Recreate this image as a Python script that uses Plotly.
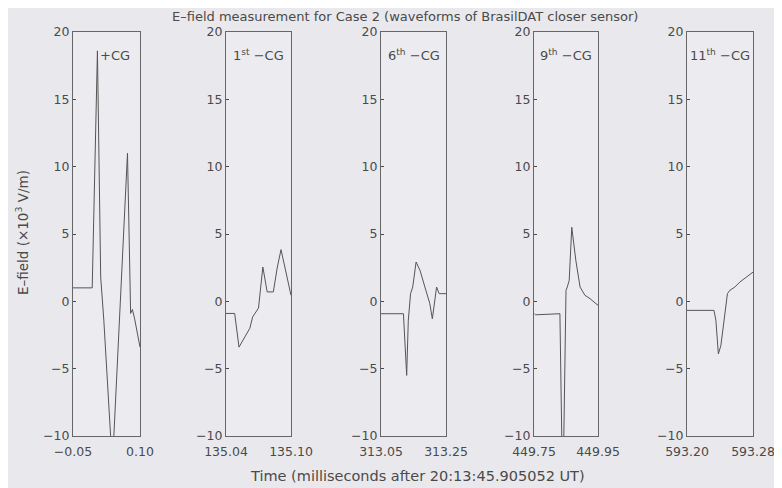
import plotly.graph_objects as go

# ---- data ----
t1 = [-0.05, -0.007, 0.0047, 0.012, 0.019, 0.030, 0.034, 0.036, 0.040, 0.065, 0.072, 0.079, 0.083, 0.088, 0.10]
e1 = [1.0, 1.0, 18.6, 1.8, -1.4, -8.0, -11.0, -11.0, -11.0, 6.5, 11.0, -0.9, -0.6, -1.3, -3.4]

t2 = [135.04, 135.048, 135.052, 135.0575, 135.062, 135.0646, 135.067, 135.070, 135.074,
      135.078, 135.0837, 135.0874, 135.0908, 135.096, 135.10]
e2 = [-0.9, -0.9, -3.4, -2.65, -2.0, -1.16, -0.9, -0.5, 2.55, 0.7, 0.7, 2.55, 3.84, 2.0, 0.45]

t3 = [313.05, 313.119, 313.129, 313.134, 313.141, 313.1475, 313.158, 313.17, 313.188,
      313.2, 313.208, 313.214, 313.221, 313.229, 313.25]
e3 = [-0.92, -0.92, -5.5, -1.4, 0.57, 1.06, 2.92, 2.3, 0.82, -0.15, -1.3, -0.05, 1.06, 0.57, 0.57]

t4 = [449.751, 449.755, 449.831, 449.838, 449.842, 449.85, 449.854, 449.86, 449.868,
      449.881, 449.894, 449.909, 449.925, 449.944, 449.95]
e4 = [-0.92, -1.0, -0.92, -12.0, -12.0, 0.82, 1.06, 1.55, 5.5, 3.0, 1.06, 0.45, 0.2, -0.17, -0.3]

t5 = [593.2, 593.2327, 593.235, 593.238, 593.241, 593.246, 593.249, 593.252, 593.258,
      593.264, 593.272, 593.28]
e5 = [-0.67, -0.67, -1.4, -3.9, -3.3, -1.04, 0.57, 0.82, 1.06, 1.43, 1.8, 2.17]

times = [t1, t2, t3, t4, t5]
fields = [e1, e2, e3, e4, e5]
x_ranges = [[-0.05, 0.10], [135.04, 135.10], [313.05, 313.25], [449.75, 449.95], [593.20, 593.28]]
x_ticktext = [["\u22120.05", "0.10"], ["135.04", "135.10"], ["313.05", "313.25"],
              ["449.75", "449.95"], ["593.20", "593.28"]]
labels = ["+CG", "1<sup>st</sup> \u2212CG", "6<sup>th</sup> \u2212CG",
          "9<sup>th</sup> \u2212CG", "11<sup>th</sup> \u2212CG"]
y_ticks = [-10, -5, 0, 5, 10, 15, 20]
y_ticktext = ["\u221210", "\u22125", "0", "5", "10", "15", "20"]

# ---- layout (page body adds an 8px offset, so the figure is 16px smaller) ----
W, H = 774, 480
px_left = [65, 218, 373, 526, 679]
px_right = [132, 283, 438, 590, 745]
y_top, y_bot = 24, 428
label_pos = [0.62, 0.5, 0.5, 0.5, 0.5]

fg = "#4a4a4a"
font_family = "DejaVu Sans, Arial, sans-serif"

fig = go.Figure()
layout = dict(
    width=W, height=H,
    margin=dict(l=0, r=0, t=0, b=0),
    paper_bgcolor="#e9e9ed",
    plot_bgcolor="#ececf0",
    showlegend=False,
    font=dict(family=font_family, size=13, color=fg),
    annotations=[],
)

for i in range(5):
    n = "" if i == 0 else str(i + 1)
    xa, ya = "x" + n, "y" + n
    fig.add_trace(go.Scatter(x=times[i], y=fields[i], mode="lines",
                             line=dict(color="#555555", width=1),
                             xaxis=xa, yaxis=ya, hoverinfo="skip"))
    layout["xaxis" + n] = dict(
        domain=[px_left[i] / W, px_right[i] / W],
        range=x_ranges[i], anchor=ya,
        tickvals=x_ranges[i], ticktext=x_ticktext[i],
        ticks="inside", ticklen=3, tickcolor=fg, ticklabelstandoff=4,
        showline=True, linecolor="#666666", linewidth=1, mirror=True,
        showgrid=False, zeroline=False, automargin=False,
        tickfont=dict(size=12.5, color=fg, family=font_family),
    )
    layout["yaxis" + n] = dict(
        domain=[1 - y_bot / H, 1 - y_top / H],
        range=[-10, 20], anchor=xa,
        tickvals=y_ticks, ticktext=y_ticktext,
        ticks="inside", ticklen=3, tickcolor=fg,
        showline=True, linecolor="#666666", linewidth=1, mirror=True,
        showgrid=False, zeroline=False, automargin=False,
        tickfont=dict(size=12.5, color=fg, family=font_family),
    )
    layout["annotations"].append(dict(
        text=labels[i], xref=xa + " domain", yref=ya + " domain",
        x=label_pos[i], y=0.943, showarrow=False,
        font=dict(size=13, color=fg), xanchor="center", yanchor="middle"))

layout["annotations"].append(dict(
    text="E\u2013field measurement for Case 2 (waveforms of BrasilDAT closer sensor)",
    xref="paper", yref="paper", x=397 / W, y=1 - 8 / H, showarrow=False,
    font=dict(size=13, color=fg), xanchor="center", yanchor="middle"))
layout["annotations"].append(dict(
    text="Time (milliseconds after 20:13:45.905052 UT)",
    xref="paper", yref="paper", x=409 / W, y=1 - 468 / H, showarrow=False,
    font=dict(size=14.5, color=fg), xanchor="center", yanchor="middle"))
layout["annotations"].append(dict(
    text="E\u2013field (\u00d710<sup>3</sup> V/m)",
    xref="paper", yref="paper", x=14 / W, y=1 - 225 / H, showarrow=False,
    textangle=-90, font=dict(size=13.5, color=fg), xanchor="center", yanchor="middle"))

fig.update_layout(**layout)
fig.write_html("out.html")
